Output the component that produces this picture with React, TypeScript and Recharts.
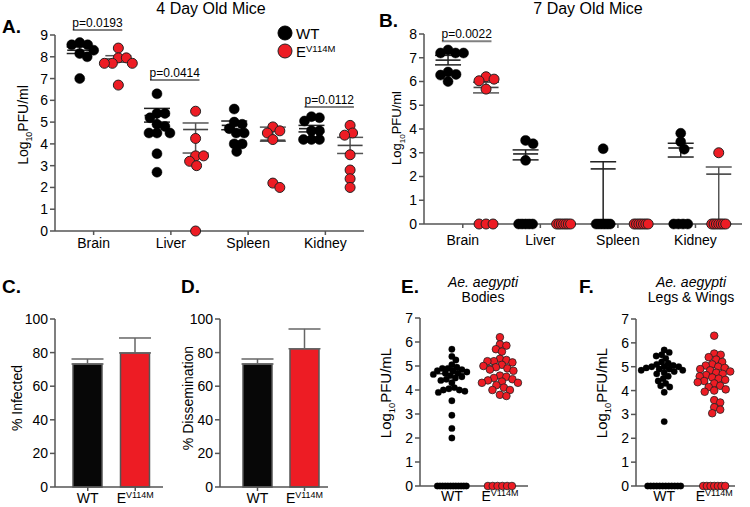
import React from 'react';
import {
  ScatterChart, Scatter, XAxis, YAxis, ErrorBar, ReferenceLine, Legend,
  BarChart, Bar, Cell,
} from 'recharts';

const FONT = '"Liberation Sans", Arial, Helvetica, sans-serif';
const RED = '#ed1c24';
const AXIS = '#555';

// ---------- shared categories ----------
const organs = ['Brain', 'Liver', 'Spleen', 'Kidney'];
const groups = ['WT', 'EV114M'];

// ---------- Panel A: 4 day old mice (log10 PFU/ml) ----------
const a4WT = [
  [8.65, 8.55, 8.55, 8.3, 8.15, 8.0, 7.0],
  [6.3, 5.4, 5.4, 5.2, 4.9, 4.8, 4.5, 4.5, 4.5, 3.55, 2.7],
  [5.6, 5.0, 4.9, 4.7, 4.5, 4.5, 4.0, 4.0, 3.65],
  [5.25, 5.2, 5.05, 4.6, 4.6, 4.2, 4.2, 4.2],
];
const a4E = [
  [8.4, 7.95, 7.95, 7.7, 7.7, 7.7, 6.7],
  [5.5, 4.25, 3.45, 3.45, 3.2, 3.0, 0],
  [4.78, 4.6, 4.5, 4.2, 2.2, 2.0],
  [4.85, 4.5, 4.4, 3.5, 2.8, 2.4, 2.0],
];
const a4WTMean = [8.3, 5.3, 4.85, 4.7];
const a4WTErr = [[0.15, 0.15], [0.3, 0.33], [0.2, 0.2], [0.15, 0.15]];
const a4EMean = [7.9, 4.66, 4.17, 3.93];
const a4EErr = [[0.15, 0.15], [1.08, 0.3], [0.05, 0.6], [0.37, 0.37]];
const a4Pvals = [
  { organ: 0, y: 9.23, text: 'p=0.0193' },
  { organ: 1, y: 6.93, text: 'p=0.0414' },
  { organ: 3, y: 5.69, text: 'p=0.0112' },
];
const a4YTicks = [0, 1, 2, 3, 4, 5, 6, 7, 8, 9];

// ---------- Panel B: 7 day old mice ----------
const b7WT = [
  [7.33, 7.2, 7.2, 7.2, 6.4, 6.3, 6.27, 6.0],
  [3.52, 3.38, 2.68, 0, 0, 0, 0, 0],
  [3.17, 0, 0, 0, 0, 0, 0],
  [3.82, 3.46, 3.15, 0, 0, 0, 0],
];
const b7E = [
  [6.2, 6.1, 6.03, 5.68, 0, 0, 0],
  [0, 0, 0, 0, 0, 0, 0],
  [0, 0, 0, 0, 0, 0, 0],
  [3.0, 0, 0, 0, 0, 0, 0, 0],
];
const b7WTMean = [6.9, 2.95, 2.32, 3.2];
const b7WTErr = [[0.2, 0.2], [0.25, 0.17], [2.32, 0.3], [0.38, 0.2]];
const b7EMean: (number | null)[] = [5.75, null, null, 2.1];
const b7EErr = [[0.23, 0.22], [0, 0], [0, 0], [2.1, 0.3]];
const b7Pvals = [{ organ: 0, y: 7.7, text: 'p=0.0022' }];
const b7YTicks = [0, 1, 2, 3, 4, 5, 6, 7, 8];

// ---------- Panels C/D: % infected / % dissemination ----------
const infected = [73.2, 79.8];
const infectedErr = [3, 8.9];
const dissem = [73.2, 82.3];
const dissemErr = [3, 11.8];
const pctTicks = [0, 20, 40, 60, 80, 100];

// ---------- Panels E/F: Ae. aegypti titers ----------
const bodiesWT = [5.7, 5.4, 5.25, 5.05, 4.95, 4.9, 4.9, 4.85, 4.8, 4.8, 4.75, 4.7, 4.7, 4.65, 4.6, 4.55, 4.5, 4.45, 4.4, 4.3, 4.1, 4.05, 4.0, 4.0, 3.95, 3.9, 3.55, 2.95, 2.4, 2.0, 0, 0, 0, 0, 0, 0, 0, 0, 0, 0, 0, 0];
const bodiesE = [6.2, 5.9, 5.85, 5.7, 5.6, 5.3, 5.25, 5.2, 5.2, 5.15, 5.05, 5.0, 4.95, 4.9, 4.85, 4.8, 4.6, 4.55, 4.5, 4.45, 4.4, 4.35, 4.3, 4.3, 4.2, 4.1, 4.0, 4.0, 3.8, 3.75, 0, 0, 0, 0, 0, 0];
const bodiesMean = [4.68, 5.03];
const legsWT = [5.7, 5.6, 5.5, 5.45, 5.35, 5.2, 5.15, 5.1, 5.05, 5.0, 5.0, 5.0, 4.95, 4.9, 4.9, 4.85, 4.85, 4.8, 4.75, 4.7, 4.6, 4.5, 4.4, 4.3, 4.2, 4.15, 3.93, 2.7, 0, 0, 0, 0, 0, 0, 0, 0, 0, 0, 0, 0];
const legsE = [6.3, 5.55, 5.5, 5.4, 5.3, 5.2, 5.1, 5.05, 5.0, 4.95, 4.9, 4.85, 4.8, 4.75, 4.7, 4.65, 4.6, 4.55, 4.5, 4.45, 4.4, 4.35, 4.3, 4.2, 4.15, 4.05, 4.0, 3.95, 3.6, 3.5, 3.3, 3.2, 3.05, 0, 0, 0, 0, 0, 0, 0];
const legsMean = [5.0, 5.0];
const mosqYTicks = [0, 1, 2, 3, 4, 5, 6, 7];

// ---------- helpers ----------
type Pt = { x: number; y: number };

// simple deterministic beeswarm: nonzero values pushed sideways until they no longer overlap,
// values at the detection floor (0) are packed evenly in a row
function swarm(values: number[], center: number, pxX: number, pxY: number, minDist: number, zeroSpread: number): Pt[] {
  const placed: { o: number; h: number }[] = [];
  const nZero = values.filter((v) => v === 0).length;
  let zi = 0;
  return values.map((v) => {
    let off = 0;
    if (v === 0) {
      off = nZero > 1 ? -zeroSpread / 2 + (zeroSpread * zi) / (nZero - 1) : 0;
      zi++;
    } else {
      const h = v * pxY;
      for (let k = 0; k < 600; k++) {
        const c = k === 0 ? 0 : (k % 2 === 1 ? 1 : -1) * Math.ceil(k / 2) * 0.5;
        if (placed.every((p) => Math.hypot(p.o - c, p.h - h) >= minDist)) { off = c; break; }
      }
      placed.push({ o: off, h });
    }
    return { x: center + off / pxX, y: v };
  });
}

const dotShape = (r: number, fill: string, stroke: string, sw: number) => (p: any) =>
  p.cx == null ? <g /> : <circle cx={p.cx} cy={p.cy} r={r} fill={fill} stroke={stroke} strokeWidth={sw} />;

const meanShape = (w: number, color: string) => (p: any) =>
  p.cx == null ? <g /> : (
    <line x1={p.cx - w / 2} x2={p.cx + w / 2} y1={p.cy} y2={p.cy} stroke={color} strokeWidth={1.6} />
  );

function GroupText({ x, y, name, fs }: { x: number; y: number; name: string; fs: number }) {
  if (name === 'WT') {
    return <text x={x} y={y} textAnchor="middle" fontSize={fs} fontFamily={FONT} fill="#000">WT</text>;
  }
  return (
    <text x={x} y={y} textAnchor="middle" fontSize={fs} fontFamily={FONT} fill="#000">
      {name.slice(0, 1)}
      <tspan fontSize={fs * 0.64} dy={-fs * 0.38}>{name.slice(1)}</tspan>
    </text>
  );
}

const legendContent = (props: any) => {
  const items = (props.payload || [])
    .filter((it: any) => it.type !== 'none' && groups.includes(String(it.value)))
    .sort((a: any, b: any) => groups.indexOf(String(a.value)) - groups.indexOf(String(b.value)));
  return (
    <svg width={95} height={42} style={{ overflow: 'visible' }}>
      {items.map((it: any, i: number) => {
        const isWT = String(it.value) === groups[0];
        return (
          <g key={String(it.value)}>
            <circle cx={8} cy={8 + i * 18} r={7} fill={isWT ? '#000' : RED} stroke={isWT ? '#000' : '#222'} strokeWidth={1} />
            <text x={19} y={14 + i * 18} fontSize={15} fontFamily={FONT} fill="#000">
              {isWT ? it.value : (
                <>
                  {String(it.value).slice(0, 1)}
                  <tspan fontSize={9.5} dy={-5.5}>{String(it.value).slice(1)}</tspan>
                </>
              )}
            </text>
          </g>
        );
      })}
    </svg>
  );
};

// ---------- organ panel (A, B) ----------
type OrganProps = {
  left: number; top: number; width: number; height: number;
  margin: { top: number; right: number; bottom: number; left: number };
  yWidth: number; xMax: number; yMax: number; yTicks: number[];
  wt: number[][]; e: number[][];
  wtMean: (number | null)[]; wtErr: number[][]; eMean: (number | null)[]; eErr: number[][];
  pvals: { organ: number; y: number; text: string }[];
  wtBase: number; eBase: number; pxX: number; pxY: number;
  zeroSpread: number; tickDy: number; fs: number; showLegend?: boolean;
};

function OrganPanel(p: OrganProps) {
  const wtDots = p.wt.flatMap((vals, i) => swarm(vals, i + p.wtBase, p.pxX, p.pxY, 8, p.zeroSpread));
  const eDots = p.e.flatMap((vals, i) => swarm(vals, i + p.eBase, p.pxX, p.pxY, 8, p.zeroSpread));
  const wtMeans = organs
    .map((_, i) => (p.wtMean[i] == null ? null : { x: i + p.wtBase, y: p.wtMean[i] as number, err: p.wtErr[i] }))
    .filter(Boolean) as any[];
  const eMeans = organs
    .map((_, i) => (p.eMean[i] == null ? null : { x: i + p.eBase, y: p.eMean[i] as number, err: p.eErr[i] }))
    .filter(Boolean) as any[];
  return (
    <div style={{ position: 'absolute', left: p.left, top: p.top }}>
      <ScatterChart width={p.width} height={p.height} margin={p.margin}>
        <XAxis
          type="number" dataKey="x" domain={[0, p.xMax]} ticks={organs.map((_, i) => i + 0.5)} interval={0}
          height={25} tickSize={4}
          axisLine={{ stroke: AXIS, strokeWidth: 1.5 }} tickLine={{ stroke: AXIS, strokeWidth: 1.5 }}
          tick={(t: any) => (
            <text x={t.x} y={t.y + p.tickDy} textAnchor="middle" fontSize={p.fs} fontFamily={FONT} fill="#000">
              {organs[Math.floor(t.payload.value)]}
            </text>
          )}
        />
        <YAxis
          type="number" dataKey="y" domain={[0, p.yMax]} ticks={p.yTicks} interval={0} width={p.yWidth}
          tickSize={5} axisLine={{ stroke: AXIS, strokeWidth: 1.5 }} tickLine={{ stroke: AXIS, strokeWidth: 1.5 }}
          tick={{ fontSize: p.fs, fill: '#000', fontFamily: FONT }}
        />
        {p.pvals.map((pv) => (
          <ReferenceLine
            key={pv.text}
            segment={[{ x: pv.organ + 0.23, y: pv.y }, { x: pv.organ + 0.87, y: pv.y }]}
            ifOverflow="visible" stroke="#808080" strokeWidth={2}
            label={{ value: pv.text, position: 'top', offset: 3, fontSize: 12, fill: '#000', fontFamily: FONT }}
          />
        ))}
        <Scatter data={wtMeans} shape={meanShape(25, '#222')} isAnimationActive={false} legendType="none">
          <ErrorBar dataKey="err" direction="y" width={13} stroke="#222" strokeWidth={1.5} />
        </Scatter>
        <Scatter data={eMeans} shape={meanShape(25, '#444')} isAnimationActive={false} legendType="none">
          <ErrorBar dataKey="err" direction="y" width={13} stroke="#555" strokeWidth={1.5} />
        </Scatter>
        <Scatter name={groups[0]} data={wtDots} fill="#000" shape={dotShape(5, '#000', '#000', 0.5)} isAnimationActive={false} />
        <Scatter name={groups[1]} data={eDots} fill={RED} shape={dotShape(5, RED, '#222', 1)} isAnimationActive={false} />
        {p.showLegend && (
          <Legend
            layout="vertical" align="center" verticalAlign="middle" content={legendContent}
            wrapperStyle={{ position: 'absolute', left: 277, top: 25, width: 95, height: 42 }}
          />
        )}
      </ScatterChart>
    </div>
  );
}

// ---------- bar panel (C, D) ----------
function PctPanel({ left, width, vals, errs, marginLeft, marginRight, padL, padR }:
  { left: number; width: number; vals: number[]; errs: number[]; marginLeft: number; marginRight: number; padL: number; padR: number }) {
  const data = groups.map((g, i) => ({ name: g, v: vals[i], err: [0, errs[i]] }));
  return (
    <div style={{ position: 'absolute', left, top: 270 }}>
      <BarChart width={width} height={237} data={data} margin={{ top: 49, right: marginRight, bottom: 0, left: marginLeft }}>
        <XAxis
          dataKey="name" type="category" height={20} tickSize={4} padding={{ left: padL, right: padR }}
          axisLine={{ stroke: AXIS, strokeWidth: 1.5 }} tickLine={{ stroke: AXIS, strokeWidth: 1.5 }}
          tick={(t: any) => <GroupText x={t.x} y={t.y + 10} name={String(t.payload.value)} fs={14} />}
        />
        <YAxis
          type="number" domain={[0, 100]} ticks={pctTicks} interval={0} width={35} tickSize={5}
          axisLine={{ stroke: AXIS, strokeWidth: 1.5 }} tickLine={{ stroke: AXIS, strokeWidth: 1.5 }}
          tick={{ fontSize: 14, fill: '#000', fontFamily: FONT }}
        />
        <Bar dataKey="v" barSize={29} stroke="#555" strokeWidth={1.5} isAnimationActive={false}>
          {data.map((d, i) => <Cell key={d.name} fill={i === 0 ? '#070707' : RED} />)}
          <ErrorBar dataKey="err" direction="y" width={16} stroke="#666" strokeWidth={1.5} />
        </Bar>
      </BarChart>
    </div>
  );
}

// ---------- mosquito panel (E, F) ----------
function MosqPanel({ left, top, width, marginLeft, marginRight, centers, wt, e, means, pxX, pxY, zeroWT, zeroE }:
  { left: number; top: number; width: number; marginLeft: number; marginRight: number; centers: number[];
    wt: number[]; e: number[]; means: number[]; pxX: number; pxY: number; zeroWT: number; zeroE: number }) {
  const wtDots = swarm(wt, centers[0], pxX, pxY, 5.2, zeroWT);
  const eDots = swarm(e, centers[1], pxX, pxY, 6.2, zeroE);
  const wtMean = [{ x: centers[0], y: means[0] }];
  const eMean = [{ x: centers[1], y: means[1] }];
  return (
    <div style={{ position: 'absolute', left, top: 270 }}>
      <ScatterChart width={width} height={237} margin={{ top: top - 270, right: marginRight, bottom: 0, left: marginLeft }}>
        <XAxis
          type="number" dataKey="x" domain={[0, 2]} ticks={centers} interval={0} height={237 - (top - 270) - Math.round(7 * pxY)}
          tickSize={3} axisLine={{ stroke: AXIS, strokeWidth: 1.5 }} tickLine={{ stroke: AXIS, strokeWidth: 1.5 }}
          tick={(t: any) => (
            <GroupText x={t.x} y={t.y + 10} name={groups[centers.indexOf(t.payload.value)] || ''} fs={14} />
          )}
        />
        <YAxis
          type="number" dataKey="y" domain={[0, 7]} ticks={mosqYTicks} interval={0} width={36} tickSize={5}
          axisLine={{ stroke: AXIS, strokeWidth: 1.5 }} tickLine={{ stroke: AXIS, strokeWidth: 1.5 }}
          tick={{ fontSize: 14, fill: '#000', fontFamily: FONT }}
        />
        <Scatter data={wtMean} shape={meanShape(30, '#333')} isAnimationActive={false} legendType="none" />
        <Scatter data={eMean} shape={meanShape(30, '#555')} isAnimationActive={false} legendType="none" />
        <Scatter name={groups[0]} data={wtDots} shape={dotShape(3.2, '#000', '#000', 0.3)} isAnimationActive={false} />
        <Scatter name={groups[1]} data={eDots} shape={dotShape(3.8, RED, '#222', 0.8)} isAnimationActive={false} />
      </ScatterChart>
    </div>
  );
}

function RotLabel({ x, y, fs, children }: { x: number; y: number; fs: number; children: React.ReactNode }) {
  return (
    <text transform={`translate(${x},${y}) rotate(-90)`} textAnchor="middle" fontSize={fs} fontFamily={FONT} fill="#000">
      {children}
    </text>
  );
}

function LogLabel({ x, y, fs, unit }: { x: number; y: number; fs: number; unit: string }) {
  return (
    <RotLabel x={x} y={y} fs={fs}>
      Log<tspan fontSize={fs * 0.62} dy={fs * 0.28}>10</tspan>
      <tspan dy={-fs * 0.28}>{unit}</tspan>
    </RotLabel>
  );
}

export default function App() {
  return (
    <div style={{ position: 'absolute', left: 0, top: 0, width: 750, height: 507, background: '#fff', overflow: 'hidden', fontFamily: FONT }}>
      <OrganPanel
        left={0} top={0} width={370} height={270}
        margin={{ top: 35, right: 6, bottom: 14, left: 15 }} yWidth={40}
        xMax={4} yMax={9} yTicks={a4YTicks}
        wt={a4WT} e={a4E} wtMean={a4WTMean} wtErr={a4WTErr} eMean={a4EMean} eErr={a4EErr}
        pvals={a4Pvals} wtBase={0.32} eBase={0.82} pxX={77.5} pxY={21.78}
        zeroSpread={14} tickDy={11} fs={14} showLegend
      />
      <OrganPanel
        left={370} top={0} width={380} height={270}
        margin={{ top: 34, right: 8, bottom: 21, left: 18 }} yWidth={36}
        xMax={4.1} yMax={8} yTicks={b7YTicks}
        wt={b7WT} e={b7E} wtMean={b7WTMean} wtErr={b7WTErr} eMean={b7EMean} eErr={b7EErr}
        pvals={b7Pvals} wtBase={0.31} eBase={0.8} pxX={77.6} pxY={23.75}
        zeroSpread={14} tickDy={15} fs={14}
      />
      <PctPanel left={0} width={185} vals={infected} errs={infectedErr} marginLeft={20} marginRight={22} padL={9} padR={4} />
      <PctPanel left={185} width={150} vals={dissem} errs={dissemErr} marginLeft={0} marginRight={7} padL={14} padR={0} />
      <MosqPanel
        left={370} top={318} width={175} marginLeft={14} marginRight={17}
        centers={[0.59, 1.48]} wt={bodiesWT} e={bodiesE} means={bodiesMean}
        pxX={54} pxY={24} zeroWT={29} zeroE={24}
      />
      <MosqPanel
        left={545} top={319} width={205} marginLeft={55} marginRight={15}
        centers={[0.57, 1.58]} wt={legsWT} e={legsE} means={legsMean}
        pxX={49.5} pxY={23.9} zeroWT={33} zeroE={22}
      />
      <svg width={750} height={507} style={{ position: 'absolute', left: 0, top: 0, pointerEvents: 'none' }}>
        <g fontFamily={FONT} fill="#000">
          <text x={211} y={14} fontSize={16} textAnchor="middle">4 Day Old Mice</text>
          <text x={588} y={14} fontSize={16} textAnchor="middle">7 Day Old Mice</text>
          <text x={2} y={33} fontSize={19} fontWeight="bold">A.</text>
          <text x={379} y={27} fontSize={19} fontWeight="bold">B.</text>
          <text x={2} y={293} fontSize={19} fontWeight="bold">C.</text>
          <text x={181} y={293} fontSize={19} fontWeight="bold">D.</text>
          <text x={401} y={293} fontSize={19} fontWeight="bold">E.</text>
          <text x={579} y={293} fontSize={19} fontWeight="bold">F.</text>
          <text x={483} y={287} fontSize={14} fontStyle="italic" textAnchor="middle">Ae. aegypti</text>
          <text x={483} y={302} fontSize={14} textAnchor="middle">Bodies</text>
          <text x={691} y={287} fontSize={14} fontStyle="italic" textAnchor="middle">Ae. aegypti</text>
          <text x={691} y={302} fontSize={14} textAnchor="middle">Legs &amp; Wings</text>
        </g>
        <LogLabel x={28} y={125} fs={14} unit="PFU/ml" />
        <LogLabel x={401} y={128} fs={13} unit="PFU/ml" />
        <RotLabel x={22} y={398} fs={14}>% Infected</RotLabel>
        <RotLabel x={193} y={398} fs={14}>% Dissemination</RotLabel>
        <LogLabel x={391} y={393} fs={15} unit="PFU/mL" />
        <LogLabel x={607} y={393} fs={15} unit="PFU/mL" />
      </svg>
    </div>
  );
}
